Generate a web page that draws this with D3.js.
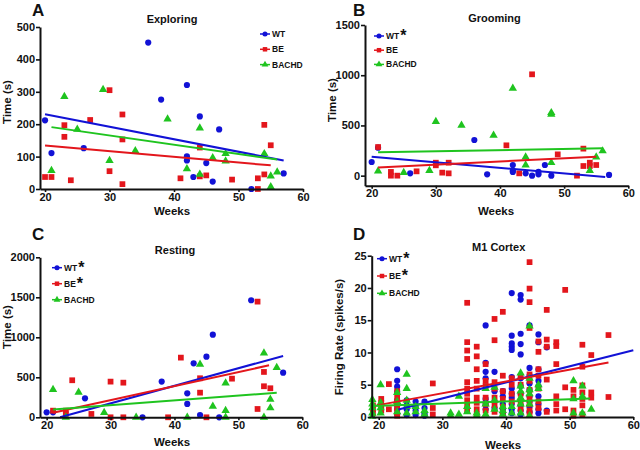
<!DOCTYPE html>
<html>
<head>
<meta charset="utf-8">
<script src="https://cdn.jsdelivr.net/npm/d3@7"></script>
<style>
body { margin: 0; padding: 0; background: #fff; }
svg text { font-family: "Liberation Sans", Arial, sans-serif; font-weight: bold; fill: #111; }
</style>
</head>
<body>
<svg id="chart" width="640" height="450"></svg>
<script>

// ---- data: [week, value] ----
var exploringWT = [[20,212],[21,111],[26,126],[36,452],[38,276],[42,321],[42,101],[42,88],[43,37],[44,224],[45,80],[46,23],[47,184],[52,0],[57,48]];
var exploringBE = [[20,37],[21,37],[23,197],[23,161],[24,27],[27,213],[30,305],[30,55],[32,230],[32,153],[32,15],[41,33],[44,128],[44,39],[45,42],[49,29],[53,33],[53,0],[54,198],[54,45],[55,135]];
var exploringBACHD = [[21,57],[23,285],[25,184],[29,307],[30,88],[34,118],[39,216],[42,62],[44,188],[44,45],[46,96],[48,109],[48,86],[54,109],[55,40],[55,7],[56,52]];
var exploringFitWT = [[20,231],[57,88]];
var exploringFitBE = [[20,134],[55,73]];
var exploringFitBACHD = [[21,191],[56,91]];

var groomingWT = [[20,136],[21,279],[26,23],[36,355],[38,13],[42,106],[42,50],[42,37],[44,23],[45,0],[46,37],[46,13],[47,106],[48,0],[57,7]];
var groomingBE = [[21,285],[23,37],[23,0],[24,0],[27,43],[30,129],[30,103],[31,30],[32,129],[32,23],[41,302],[43,23],[45,1009],[49,212],[52,0],[53,269],[53,96],[54,129],[54,96],[55,106]];
var groomingBACHD = [[21,46],[25,30],[29,50],[30,538],[34,501],[39,402],[42,870],[44,186],[44,106],[48,627],[48,611],[48,129],[54,50],[55,186],[56,246]];
var groomingFitWT = [[20,189],[56.4,-13]];
var groomingFitBE = [[21,80],[55,189]];
var groomingFitBACHD = [[21,232],[56,272]];

var restingWT = [[20,62],[21,62],[26,237],[35,0],[38,446],[42,300],[42,167],[43,675],[44,29],[45,758],[46,1033],[47,0],[52,1463],[57,558]];
var restingBE = [[21,83],[23,83],[23,42],[24,463],[27,42],[30,446],[30,0],[32,433],[32,0],[39,0],[41,746],[44,488],[44,308],[45,0],[49,483],[53,1446],[53,104],[54,567],[54,388],[55,363]];
var restingBACHD = [[21,346],[23,0],[25,313],[29,58],[34,0],[42,0],[44,663],[46,138],[48,429],[48,83],[48,0],[54,804],[54,0],[55,225],[55,117],[56,621]];
var restingFitWT = [[22.1,0],[57,767]];
var restingFitBE = [[21,58],[54.8,650]];
var restingFitBACHD = [[21,96],[56,308]];

// M1 cortex: [week, [firing rates...]] per recording column
var m1WT = [
  [22.9,[7.4,5.6,4.7,3.9,2.6,1.8,1.2,0.4]],
  [24.4,[2.6,1.8,1.2,0.3]],
  [25.8,[2.4,1.6,1.0,0.3]],
  [27.2,[2.4,1.4,0.6,0.2]],
  [36.8,[14.2,8.4,7.0,6.0,2.8,2.0,1.2]],
  [38.2,[7.0,4.0,2.4,1.4]],
  [39.5,[4.0,3.2,2.0,1.2,0.6]],
  [40.9,[19.2,12.6,11.4,10.9,10.4,6.2,4.4,3.6,3.0,2.0,1.2,0.6]],
  [42.3,[18.9,18.2,12.9,11.3,9.7,6.0,4.8,3.6,2.6,1.8,1.0,0.4]],
  [43.7,[14.2,7.6,6.4,5.2,4.2,3.2,2.4,1.6,0.8]],
  [45.1,[12.8,11.6,7.4,5.6,4.8,3.2,2.0,1.2,0.6]],
  [46.4,[10.8,1.0]]
];
var m1BE = [
  [19.1,[1.8,1.2,0.6]],
  [20.4,[2.8,2.2,1.6,1.0]],
  [21.6,[5.1,1.2]],
  [22.9,[4.0,3.0,2.2,1.5,0.8,0.2]],
  [28.5,[5.2,1.4,0.4]],
  [33.9,[17.7,11.6,10.3,9.0,5.4,4.4,3.6,2.6,1.8,1.0]],
  [35.4,[10.9,9.4,7.4,5.6,4.4,3.0,2.2,1.2,0.4]],
  [36.8,[8.2,5.6,4.8,3.0,2.0,1.0]],
  [38.2,[15.2,11.9,5.4,4.4,3.0,1.8,0.8]],
  [39.5,[16.3,6.4,4.0,2.8,1.6,0.6]],
  [40.9,[6.0,5.0,3.6,2.4]],
  [42.3,[6.2,5.0,3.6,2.2,1.2]],
  [43.7,[24.0,19.9,17.8,13.8,6.6,5.6,4.2,3.0,2.0,1.0,0.4]],
  [45.1,[11.7,10.1,7.4,6.4,4.4,2.4,1.4]],
  [46.4,[16.6,12.0,10.9,5.8,0.8]],
  [47.9,[11.6,11.0,8.2,3.2,2.0,1.0]],
  [49.3,[19.7,4.6,1.2]],
  [50.6,[4.2,3.2,1.0,0.2]],
  [52.0,[11.2,7.8,4.9,3.8,2.8,1.8,0.4]],
  [53.4,[9.6,3.8,3.0]],
  [56.1,[12.7,3.1]]
];
var m1BACHD = [
  [19.0,[2.7,2.0,1.4,0.6,0.1]],
  [20.3,[5.0,2.2,1.4,0.6]],
  [22.9,[3.8,2.4,0.8]],
  [24.4,[6.6,4.4,2.6,1.6,0.6]],
  [25.8,[1.6,0.8]],
  [27.2,[1.0,0.4]],
  [31.3,[0.6,0.2]],
  [32.6,[3.2,0.4]],
  [33.9,[1.6,0.8]],
  [35.4,[0.6,0.2]],
  [36.8,[4.4,2.0,0.4]],
  [38.2,[4.6,2.6,1.2]],
  [39.5,[1.6,1.0,0.4]],
  [40.9,[1.6,0.6]],
  [42.3,[6.8,4.8,4.0,3.0,2.0,0.6]],
  [43.7,[14.1,6.0,4.2,3.6,2.0,0.2]],
  [45.1,[5.0,4.4]],
  [50.6,[5.6,2.8,0.6]],
  [52.0,[4.8,3.2,0.6]],
  [53.4,[1.2]]
];
var m1FitWT = [[23.1,1.15],[60,10.35]];
var m1FitBE = [[19.7,1.8],[56.1,8.45]];
var m1FitBACHD = [[19,1.7],[53.2,2.85]];

var weekTicks = [20, 30, 40, 50, 60];
var groups = ["WT", "BE", "BACHD"];
var colors = {WT: "#1212d6", BE: "#e3161c", BACHD: "#1fc41f"};
var symbols = {WT: d3.symbolCircle, BE: d3.symbolSquare, BACHD: d3.symbolTriangle};
var symSize = {WT: 30, BE: 33, BACHD: 30};

function flatten(cols) {
  var out = [];
  cols.forEach(function(c) { c[1].forEach(function(v) { out.push([c[0], v]); }); });
  return out;
}

var svg = d3.select("#chart");

function panel(cfg) {
  var x = d3.scaleLinear().domain(cfg.xDomain).range(cfg.xRange);
  var y = d3.scaleLinear().domain(cfg.yDomain).range(cfg.yRange);
  var g = svg.append("g");

  // points
  groups.forEach(function(k) {
    g.selectAll(".pt-" + k).data(cfg.points[k]).enter().append("path")
      .attr("d", d3.symbol().type(symbols[k]).size(symSize[k]))
      .attr("transform", function(d) { return "translate(" + x(d[0]) + "," + y(d[1]) + ")"; })
      .attr("fill", colors[k]);
  });

  // fit lines
  var line = d3.line().x(function(d) { return x(d[0]); }).y(function(d) { return y(d[1]); });
  groups.forEach(function(k) {
    g.append("path").datum(cfg.fits[k]).attr("d", line)
      .attr("fill", "none").attr("stroke", colors[k]).attr("stroke-width", 2);
  });

  // axes
  var xa = g.append("g").attr("transform", "translate(0," + cfg.yRange[0] + ")")
    .call(d3.axisBottom(x).tickValues(weekTicks).tickSize(3).tickSizeOuter(0).tickPadding(1));
  var ya = g.append("g").attr("transform", "translate(" + cfg.xRange[0] + ",0)")
    .call(d3.axisLeft(y).tickValues(cfg.yTicks).tickFormat(d3.format("d")).tickSize(4).tickSizeOuter(0).tickPadding(1));
  [xa, ya].forEach(function(a) {
    a.select(".domain").attr("stroke", "#111").attr("stroke-width", 2);
    a.selectAll(".tick line").attr("stroke", "#111").attr("stroke-width", 1.6);
    a.selectAll(".tick text").attr("fill", "#111").style("font-size", "11px").style("font-family", "Liberation Sans, Arial, sans-serif").style("font-weight", "bold");
  });

  g.append("text").attr("x", cfg.letter[0]).attr("y", cfg.letter[1]).style("font-size", "17px").text(cfg.label);
  g.append("text").attr("x", cfg.title[0]).attr("y", cfg.title[1]).attr("text-anchor", "middle").style("font-size", "11px").text(cfg.name);
  g.append("text").attr("x", cfg.weeks[0]).attr("y", cfg.weeks[1]).attr("text-anchor", "middle").style("font-size", "11.5px").text("Weeks");
  g.append("text").attr("transform", "translate(" + cfg.ylab[0] + "," + cfg.ylab[1] + ") rotate(-90)")
    .attr("text-anchor", "middle").style("font-size", "11.5px").text(cfg.yTitle);

  // legend
  groups.forEach(function(k, i) {
    var lx = cfg.legend[0], ly = cfg.legend[1] + i * cfg.legend[2];
    g.append("line").attr("x1", lx - 5).attr("x2", lx + 5).attr("y1", ly).attr("y2", ly)
      .attr("stroke", colors[k]).attr("stroke-width", 1.5);
    g.append("path").attr("d", d3.symbol().type(symbols[k]).size(20))
      .attr("transform", "translate(" + lx + "," + ly + ")").attr("fill", colors[k]);
    var t = g.append("text").attr("x", lx + 7).attr("y", ly + 3).style("font-size", "8.5px").text(k);
    if (cfg.stars.indexOf(k) >= 0) {
      t.append("tspan").attr("dx", 1).attr("dy", 2).style("font-size", "16px").text("*");
    }
  });
}

panel({
  label: "A", name: "Exploring", yTitle: "Time (s)",
  xDomain: [19.22, 60], xRange: [40, 303], yDomain: [0, 500], yRange: [189, 27],
  yTicks: [0, 100, 200, 300, 400, 500],
  points: {WT: exploringWT, BE: exploringBE, BACHD: exploringBACHD},
  fits: {WT: exploringFitWT, BE: exploringFitBE, BACHD: exploringFitBACHD},
  letter: [32, 16], title: [172, 23], weeks: [172, 215], ylab: [10.5, 102],
  legend: [265, 34, 15.3], stars: []
});

panel({
  label: "B", name: "Grooming", yTitle: "Time (s)",
  xDomain: [18.96, 60], xRange: [365, 628.3], yDomain: [-100, 1500], yRange: [185.7, 25],
  yTicks: [0, 500, 1000, 1500],
  points: {WT: groomingWT, BE: groomingBE, BACHD: groomingBACHD},
  fits: {WT: groomingFitWT, BE: groomingFitBE, BACHD: groomingFitBACHD},
  letter: [353, 16], title: [494.5, 21.5], weeks: [496, 215], ylab: [336, 100],
  legend: [379, 36, 14.2], stars: ["WT"]
});

panel({
  label: "C", name: "Resting", yTitle: "Time (s)",
  xDomain: [18.96, 60], xRange: [40, 302.3], yDomain: [0, 2000], yRange: [417.3, 257.3],
  yTicks: [0, 500, 1000, 1500, 2000],
  points: {WT: restingWT, BE: restingBE, BACHD: restingBACHD},
  fits: {WT: restingFitWT, BE: restingFitBE, BACHD: restingFitBACHD},
  letter: [32, 240], title: [175, 254], weeks: [172, 446], ylab: [10.5, 327],
  legend: [57, 267.7, 16], stars: ["WT", "BE"]
});

panel({
  label: "D", name: "M1 Cortex", yTitle: "Firing Rate (spikes/s)",
  xDomain: [18.9, 60], xRange: [371.7, 633.3], yDomain: [0, 25], yRange: [417, 255.7],
  yTicks: [0, 5, 10, 15, 20, 25],
  points: {WT: flatten(m1WT), BE: flatten(m1BE), BACHD: flatten(m1BACHD)},
  fits: {WT: m1FitWT, BE: m1FitBE, BACHD: m1FitBACHD},
  letter: [353, 240], title: [498.7, 250.7], weeks: [503, 449], ylab: [343, 337],
  legend: [382, 258.7, 17.3], stars: ["WT", "BE"]
});

</script>
</body>
</html>
